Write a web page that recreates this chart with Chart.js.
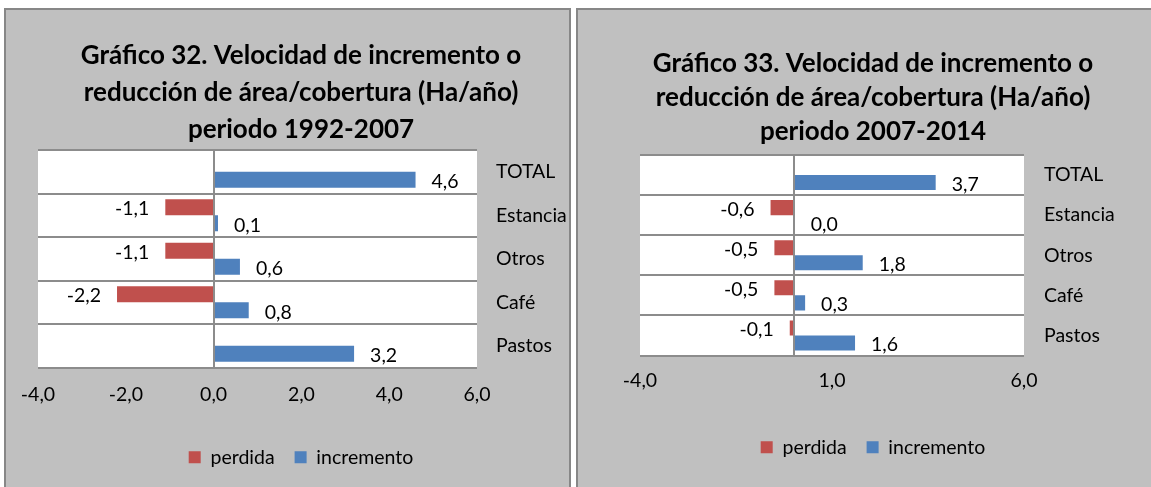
<!DOCTYPE html>
<html><head><meta charset="utf-8">
<script src="https://cdn.jsdelivr.net/npm/chart.js@4.4.0/dist/chart.umd.min.js"></script>
<style>
html,body{margin:0;padding:0;background:#fff;width:1151px;height:487px;overflow:hidden;}
.panel{position:absolute;top:8px;height:500px;background:#c0c0c0;border:2px solid #878787;}
#p1{left:4px;width:563px;}
#p2{left:576px;width:600px;border-right:none;}
canvas{position:absolute;left:0;top:0;}
</style></head><body>
<div class="panel" id="p1"><canvas id="c1" width="563" height="477"></canvas></div>
<div class="panel" id="p2"><canvas id="c2" width="573" height="477"></canvas></div>
<script>
const categories = ['TOTAL', 'Estancia', 'Otros', 'Café', 'Pastos'];
const seriesNames = ['perdida', 'incremento'];
const perdida1 = [null, -1.1, -1.1, -2.2, null];
const incremento1 = [4.6, 0.1, 0.6, 0.8, 3.2];
const perdida2 = [null, -0.6, -0.5, -0.5, -0.1];
const incremento2 = [3.7, 0.03, 1.8, 0.3, 1.6];
const xTicks1 = [-4, -2, 0, 2, 4, 6];
const xTicks2 = [-4, 1, 6];
const title1 = ['Gráfico 32. Velocidad de incremento o', 'reducción de área/cobertura (Ha/año)', 'periodo 1992-2007'];
const title2 = ['Gráfico 33. Velocidad de incremento o', 'reducción de área/cobertura (Ha/año)', 'periodo 2007-2014'];

const RED = '#c0504d', BLUE = '#4f81bd', GRID = '#8c8c8c';
const FONT = 'Lato';
const FS = 19.5;
const fmt = v => Number(v).toFixed(1).replace('.', ',');

const plotBg = {
  id: 'plotBg',
  beforeDraw(chart) {
    const a = chart.chartArea, c = chart.ctx;
    c.save(); c.fillStyle = '#fff';
    c.fillRect(a.left, a.top, a.right - a.left, a.bottom - a.top);
    c.restore();
  }
};
const zeroLine = {
  id: 'zeroLine',
  afterDatasetsDraw(chart) {
    const a = chart.chartArea, c = chart.ctx;
    const x = Math.round(chart.scales.x.getPixelForValue(0));
    c.save(); c.strokeStyle = GRID; c.lineWidth = 2;
    c.beginPath(); c.moveTo(x, a.top); c.lineTo(x, a.bottom); c.stroke();
    c.restore();
  }
};
const valueLabels = {
  id: 'valueLabels',
  afterDatasetsDraw(chart) {
    const c = chart.ctx;
    c.save();
    c.font = FS + 'px ' + FONT;
    c.fillStyle = '#000';
    c.textBaseline = 'middle';
    chart.data.datasets.forEach((ds, i) => {
      chart.getDatasetMeta(i).data.forEach((bar, j) => {
        const v = ds.data[j];
        if (v === null || v === undefined) return;
        const neg = v < 0;
        c.textAlign = neg ? 'right' : 'left';
        c.fillText(fmt(v), bar.x + (neg ? -16 : 16), bar.y + 2);
      });
    });
    c.restore();
  }
};

function makeChart(id, perd, inc, ticks, title, cfg) {
  return new Chart(document.getElementById(id), {
    type: 'bar',
    data: {
      labels: categories,
      datasets: [
        { label: seriesNames[0], data: perd, backgroundColor: RED, categoryPercentage: cfg.cat, barPercentage: 1, xAxisID: 'x', yAxisID: 'y' },
        { label: seriesNames[1], data: inc, backgroundColor: BLUE, categoryPercentage: cfg.cat, barPercentage: 1, xAxisID: 'x', yAxisID: 'y' }
      ]
    },
    options: {
      indexAxis: 'y',
      responsive: false,
      animation: false,
      devicePixelRatio: 1,
      layout: { padding: { left: cfg.pl, right: 0, top: 0, bottom: cfg.pb } },
      scales: {
        x: {
          type: 'linear', min: -4, max: 6,
          afterBuildTicks: s => { s.ticks = ticks.map(v => ({ value: v })); },
          afterFit: s => { s.height = cfg.hx; },
          grid: { display: false },
          border: { display: false },
          ticks: { color: '#000', font: { family: FONT, size: FS }, padding: cfg.xp, maxRotation: 0, autoSkip: false, callback: v => fmt(v) }
        },
        y: {
          type: 'category',
          position: 'right',
          afterFit: s => { s.width = cfg.wy; },
          grid: { color: GRID, lineWidth: 2, drawTicks: false, offset: true },
          border: { display: false },
          ticks: { color: '#000', font: { family: FONT, size: FS }, padding: cfg.yp }
        },
        yl: {
          type: 'category', axis: 'y',
          position: 'left',
          afterFit: s => { s.width = cfg.d; },
          grid: { display: false },
          border: { display: false },
          ticks: { display: false }
        }
      },
      plugins: {
        title: {
          display: true, text: title, color: '#000',
          font: { family: FONT, size: cfg.ts, weight: 'bold', lineHeight: cfg.tlh + 'px' },
          padding: { top: cfg.ttp, bottom: cfg.tbp }
        },
        legend: {
          position: 'bottom',
          labels: { boxWidth: 12, boxHeight: 12, padding: 20, color: '#000', font: { family: FONT, size: FS } }
        },
        tooltip: { enabled: false }
      }
    },
    plugins: [plotBg, zeroLine, valueLabels]
  });
}

makeChart('c1', perdida1, incremento1, xTicks1, title1,
  { cat: 0.74, pl: 27, d: 5, pb: 10, hx: 60, wy: 92, xp: 8, yp: 19, ts: 26, tlh: 37, ttp: 27, tbp: 2 });
makeChart('c2', perdida2, incremento2, xTicks2, title2,
  { cat: 0.75, pl: 17, d: 45, pb: 20, hx: 62, wy: 127, xp: 6, yp: 20, ts: 26, tlh: 34, ttp: 37, tbp: 6 });
</script>
</body></html>
